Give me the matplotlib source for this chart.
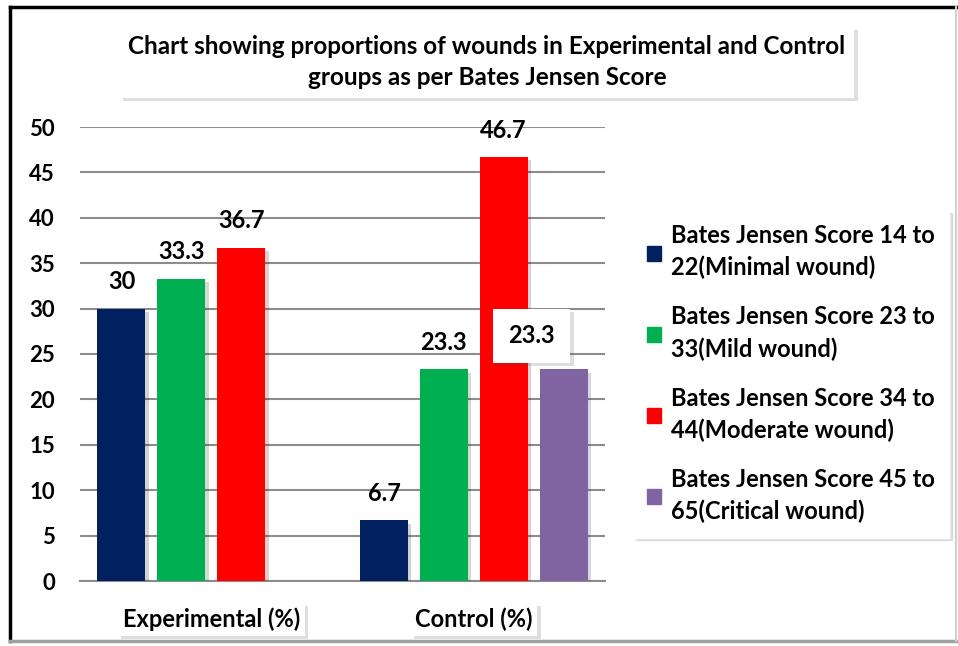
import matplotlib
matplotlib.use("Agg")
import matplotlib.pyplot as plt
import matplotlib.patheffects as pe
from matplotlib.lines import Line2D
from matplotlib.patches import Patch
import numpy as np

plt.rcParams['font.family'] = ['Lato', 'DejaVu Sans']
plt.rcParams['font.weight'] = 'bold'

groups = ['Experimental (%)', 'Control (%)']
series = ['Bates Jensen Score 14 to\n22(Minimal wound)',
          'Bates Jensen Score 23 to\n33(Mild wound)',
          'Bates Jensen Score 34 to\n44(Moderate wound)',
          'Bates Jensen Score 45 to\n65(Critical wound)']
minimal = [30, 6.7]
mild = [33.3, 23.3]
moderate = [36.7, 46.7]
critical = [None, 23.3]
colors = ['#002060', '#00B050', '#FF0000', '#8064A2']
title = 'Chart showing proportions of wounds in Experimental and Control\ngroups as per Bates Jensen Score'

fig = plt.figure(figsize=(9.58, 6.46), dpi=100)
ax = fig.add_axes([80/958, 1-581/646, 525/958, 454/646])

shadow = [pe.SimplePatchShadow(offset=(2.5, -2.5), alpha=0.18), pe.Normal()]
width = 0.183
step = 0.228
x = np.arange(len(groups))
allvals = [minimal, mild, moderate, critical]
for i, vals in enumerate(allvals):
    pos = x + (i - 1.5) * step
    for p, v in zip(pos, vals):
        if v is None:
            continue
        b = ax.bar(p, v, width, color=colors[i], zorder=3)
        b[0].set_path_effects(shadow)
        if i == 3:
            t = ax.annotate(str(v), (p, v), xytext=(-23, 16), textcoords='offset points',
                            ha='center', va='bottom', fontsize=17, fontweight='bold',
                            bbox=dict(boxstyle='square,pad=0.65', fc='white', ec='none'), zorder=5)
            t.get_bbox_patch().set_path_effects(shadow)
        else:
            ax.annotate(str(v), (p, v), xytext=(0, 11), textcoords='offset points',
                        ha='center', va='bottom', fontsize=17, fontweight='bold', zorder=5)

ax.set_xlim(-0.5, 1.5)
ax.set_ylim(0, 50)
ax.set_yticks(range(0, 51, 5))
ax.yaxis.grid(True, color='#8c8c8c', lw=1.5, zorder=0)
ax.set_axisbelow(True)
for s in ['top', 'right', 'left']:
    ax.spines[s].set_visible(False)
ax.spines['bottom'].set_color('#8c8c8c')
ax.spines['bottom'].set_linewidth(1.5)
ax.tick_params(axis='y', length=0, pad=18, labelsize=16)
ax.tick_params(axis='x', length=0, pad=19, labelsize=17)
ax.set_xticks(x)
ax.set_xticklabels(groups, fontweight='bold')
for lab in ax.get_xticklabels():
    lab.set_bbox(dict(boxstyle='square,pad=0.2', fc='white', ec='none'))
    lab.get_bbox_patch().set_path_effects(shadow)
for lab in ax.get_yticklabels():
    lab.set_fontweight('bold')

tt = fig.text(487/958, 1-62/646, title, ha='center', va='center', fontsize=17.5,
              fontweight='bold', linespacing=1.45,
              bbox=dict(boxstyle='square,pad=0.35', fc='white', ec='none'))
tt.get_bbox_patch().set_path_effects(shadow)

handles = [Patch(color=c) for c in colors]
leg = fig.legend(handles, series, loc='upper left', bbox_to_anchor=(633/958, 1-210/646),
                 fontsize=17, frameon=True, fancybox=False, shadow={'alpha': 0.15},
                 handlelength=0.6, handleheight=0.6, handletextpad=0.4,
                 labelspacing=1.1, borderpad=0.6, borderaxespad=0, edgecolor='white')
for t in leg.get_texts():
    t.set_linespacing(1.45)
    t.set_fontweight('bold')

# outer chart frame
fig.add_artist(Line2D([10/958, 10/958], [5/646, 639/646], transform=fig.transFigure, color='black', lw=2.5))
fig.add_artist(Line2D([10/958, 956/958], [639/646, 639/646], transform=fig.transFigure, color='black', lw=2.5))
fig.add_artist(Line2D([10/958, 956/958], [5/646, 5/646], transform=fig.transFigure, color='#a0a0a0', lw=2.5))
fig.add_artist(Line2D([956/958, 956/958], [5/646, 639/646], transform=fig.transFigure, color='#d0d0d0', lw=1.5))

fig.savefig('out.png', dpi=100)
